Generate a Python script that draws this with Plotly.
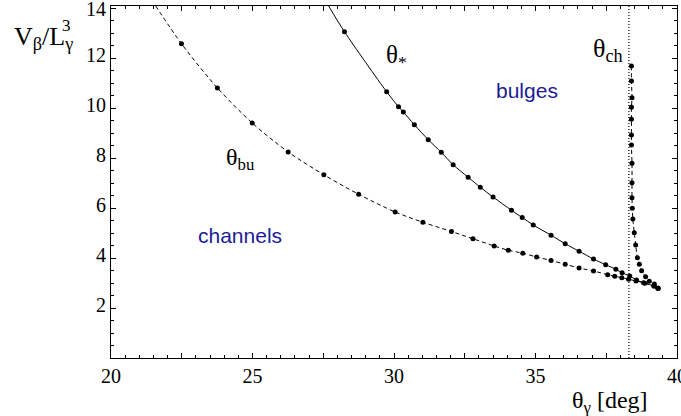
import plotly.graph_objects as go

# ---- data ----
# theta_bu (dashed curve with dots)
bu_x = [22.49, 23.76, 24.99, 26.26, 27.52, 28.75, 30.04, 31.02, 32.03, 32.79, 33.54, 34.04,
        34.55, 35.04, 35.55, 36.05, 36.54, 37.05, 37.55, 37.80, 38.05, 38.29, 38.55, 38.82,
        39.19, 39.33]
bu_y = [12.57, 10.80, 9.40, 8.24, 7.33, 6.55, 5.84, 5.43, 5.06, 4.77, 4.48, 4.31,
        4.19, 4.04, 3.90, 3.75, 3.60, 3.48, 3.33, 3.27, 3.21, 3.15, 3.08, 3.01,
        2.88, 2.79]
bu_line_start = (21.58, 14.08)

# theta_* (solid curve with dots)
star_x = [28.25, 29.74, 30.16, 30.33, 30.72, 31.21, 31.67, 32.09, 32.62, 33.05, 33.50, 34.15,
          34.53, 34.92, 35.55, 36.05, 36.54, 37.05, 37.48, 37.84, 38.06, 38.33, 38.57, 38.86,
          39.18, 39.33]
star_y = [13.05, 10.65, 10.05, 9.84, 9.33, 8.73, 8.23, 7.73, 7.23, 6.83, 6.44, 5.91,
          5.62, 5.32, 4.91, 4.57, 4.27, 3.96, 3.73, 3.55, 3.41, 3.28, 3.12, 2.99,
          2.88, 2.79]
star_line_start = (27.69, 14.08)

# theta_ch (dashed, nearly vertical, with dots)
ch_x = [38.39, 38.39, 38.41, 38.39, 38.39, 38.39, 38.39, 38.41, 38.41, 38.41, 38.42, 38.44,
        38.49, 38.54, 38.60, 38.67, 38.75, 38.89, 39.02, 39.20, 39.33]
ch_y = [11.68, 11.08, 10.41, 10.03, 9.55, 8.92, 8.52, 7.79, 7.01, 6.41, 5.99, 5.56,
        5.01, 4.52, 4.01, 3.75, 3.49, 3.25, 3.07, 2.96, 2.79]

# vertical dotted line
ch_limit = 38.30

x_range = [20, 40]
y_range = [0, 14.08]
x_tickvals = [20, 22.5, 25, 27.5, 30, 32.5, 35, 37.5, 40]
x_ticktext = ["20", "", "25", "", "30", "", "35", "", "40"]
y_tickvals = [2, 4, 6, 8, 10, 12, 14]
y_ticktext = ["2", "4", "6", "8", "10", "12",
              "<sub><span style='font-size:20px'>14</span></sub>"]

SERIF = "Liberation Serif"
SANS = "Liberation Sans"
BLUE = "#1c1c96"

fig = go.Figure()

# lines (spline through read points)
fig.add_trace(go.Scatter(
    x=[bu_line_start[0]] + bu_x, y=[bu_line_start[1]] + bu_y, mode="lines",
    line=dict(color="black", width=1, dash="4px,3px", shape="spline", smoothing=0.8),
    hoverinfo="skip", showlegend=False))
fig.add_trace(go.Scatter(
    x=[star_line_start[0]] + star_x, y=[star_line_start[1]] + star_y, mode="lines",
    line=dict(color="black", width=1, shape="spline", smoothing=0.8),
    hoverinfo="skip", showlegend=False))
fig.add_trace(go.Scatter(
    x=ch_x, y=ch_y, mode="lines",
    line=dict(color="black", width=1, dash="4px,3px", shape="spline", smoothing=0.8),
    hoverinfo="skip", showlegend=False))
fig.add_trace(go.Scatter(
    x=[ch_limit, ch_limit], y=y_range, mode="lines",
    line=dict(color="black", width=1.2, dash="1px,2px"),
    hoverinfo="skip", showlegend=False))

# markers
for xs, ys in ((bu_x, bu_y), (star_x, star_y), (ch_x, ch_y)):
    fig.add_trace(go.Scatter(
        x=xs, y=ys, mode="markers",
        marker=dict(color="black", size=5, line=dict(width=0)),
        showlegend=False, cliponaxis=False))

# labels inside plot
fig.add_annotation(x=24.56, y=7.98, text="θ<sub>bu</sub>", showarrow=False,
                   font=dict(family=SERIF, size=24, color="black"))
fig.add_annotation(x=30.1, y=12.06, text="θ<sub>*</sub>", showarrow=False,
                   font=dict(family=SERIF, size=25, color="black"))
fig.add_annotation(x=37.55, y=12.34, text="θ<sub>ch</sub>", showarrow=False,
                   font=dict(family=SERIF, size=26, color="black"))
fig.add_annotation(x=34.7, y=10.72, text="bulges", showarrow=False,
                   font=dict(family=SANS, size=21, color=BLUE))
fig.add_annotation(x=24.56, y=4.92, text="channels", showarrow=False,
                   font=dict(family=SANS, size=21, color=BLUE))

# axis titles
W_PLOT = 566.0
H_PLOT = 352.0
def px_x(px):
    return (px - 111) / W_PLOT
def px_y(py):
    return (358 - py) / H_PLOT

fig.add_annotation(xref="paper", yref="paper", x=px_x(12), y=px_y(38),
                   xanchor="left", yanchor="middle", showarrow=False,
                   text="V<sub>β</sub>/L<sub>γ</sub>",
                   font=dict(family=SERIF, size=26, color="black"))
fig.add_annotation(xref="paper", yref="paper", x=px_x(66.5), y=px_y(26),
                   xanchor="center", yanchor="middle", showarrow=False,
                   text="3", font=dict(family=SERIF, size=17, color="black"))
fig.add_annotation(xref="paper", yref="paper", x=px_x(610), y=px_y(402),
                   xanchor="center", yanchor="middle", showarrow=False,
                   text="θ<sub>γ</sub> [deg]",
                   font=dict(family=SERIF, size=24, color="black"))

axis_common = dict(showline=True, linecolor="black", linewidth=1, mirror="ticks",
                   ticks="inside", tickcolor="black", tickwidth=1, ticklen=5,
                   showgrid=False, zeroline=False, ticklabeloverflow="allow",
                   automargin=False,
                   tickfont=dict(family=SERIF, size=20, color="black"))

fig.update_xaxes(range=x_range, tickmode="array", tickvals=x_tickvals, ticktext=x_ticktext,
                 minor=dict(dtick=0.5, ticks="inside", ticklen=3, tickcolor="black", showgrid=False),
                 **axis_common)
fig.update_yaxes(range=y_range, tickmode="array", tickvals=y_tickvals, ticktext=y_ticktext,
                 ticklabelshift=-3,
                 minor=dict(dtick=0.5, ticks="inside", ticklen=3, tickcolor="black", showgrid=False),
                 **axis_common)

fig.update_layout(width=681, height=416,
                  margin=dict(l=111, r=4, t=6, b=58, autoexpand=False),
                  paper_bgcolor="white", plot_bgcolor="white",
                  showlegend=False)

fig.write_html("out.html", config={"displayModeBar": False},
               post_script="document.body.style.margin='0px';document.body.style.overflow='hidden';")
